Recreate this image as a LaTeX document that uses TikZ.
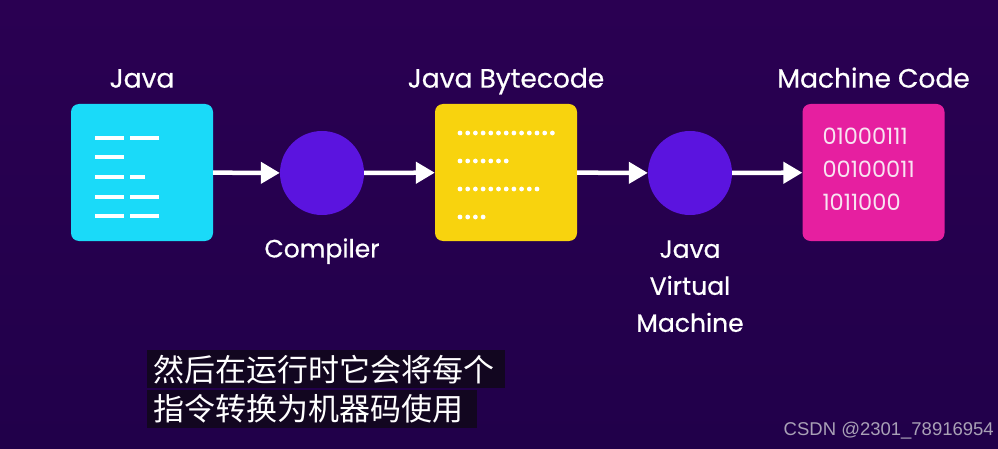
\documentclass[tikz,border=0pt]{standalone}
\usepackage{fontspec}
\setmainfont{Poppins}
\newfontfamily\titlefont{Poppins}[FakeBold=0.6]
\newfontfamily\cjk{Noto Sans CJK SC}
\newfontfamily\wmfont{Liberation Sans}
\usetikzlibrary{positioning}
\usetikzlibrary{arrows.meta}

\definecolor{bgtop}{HTML}{2A0052}
\definecolor{bgbot}{HTML}{21004A}
\definecolor{javacyan}{HTML}{1ADAF9}
\definecolor{byteyellow}{HTML}{F8D30E}
\definecolor{machpink}{HTML}{E61FA0}
\definecolor{toolviolet}{HTML}{5B14DF}
\definecolor{binwhite}{HTML}{F8E4F2}
\definecolor{subbg}{HTML}{120620}
\definecolor{wmgray}{HTML}{A9A1B6}

\begin{document}
\begin{tikzpicture}[x = 1pt, y = -1pt,
    srcbox/.style = {shape = rectangle, rounded corners = 8pt, minimum width = 142pt, minimum height = 137pt, inner sep = 0pt},
    tool/.style = {shape = circle, fill = toolviolet, minimum size = 84pt, inner sep = 0pt},
    title/.style = {text = white, font = \titlefont\fontsize{26.5}{30}\selectfont, text height = 19pt, text depth = 5pt, inner sep = 0pt, label distance = 11pt},
    toolname/.style = {text = white, font = \titlefont\fontsize{25}{37}\selectfont, align = center, inner sep = 0pt, label distance = 25pt},
    bits/.style = {text = binwhite, align = left, inner sep = 0pt, font = \fontsize{22.5}{33}\selectfont},
    flow/.style = {-{Triangle[length = 19pt, width = 21pt]}, white, line width = 4.5pt},
    codeline/.style = {white, line width = 4pt},
    subline/.style = {fill = subbg, text = white, anchor = north west, font = \cjk\fontsize{31}{34}\selectfont, minimum height = 38pt, inner xsep = 6pt, inner ysep = 0pt, align = left},
    ]
    \shade[top color = bgtop, bottom color = bgbot] (0,0) rectangle (998,449);
    \useasboundingbox (0,0) rectangle (998,449);

    \node[srcbox, fill = javacyan] (java) [label = {[title]above:Java}] at (142,172.5) {};
    \node[tool] (compiler) [label = {[toolname, label distance = 23pt]below:Compiler}] at (322,173) {};
    \node[srcbox, fill = byteyellow] (bytecode) [label = {[title]above:Java Bytecode}] at (506,172.5) {};
    \node[tool] (jvm) [label = {[toolname]below:Java\\Virtual\\Machine}] at (690,173) {};
    \node[srcbox, fill = machpink] (machine) [label = {[title]above:Machine Code}] at (873.5,172.5) {};
    \node[bits, below right = 24pt and 20pt of machine.north west] (binary) {01000111\\00100011\\1011000};

    % source lines
    \draw[codeline] (95,138) -- (124,138);
    \draw[codeline] (130,138) -- (159,138);
    \draw[codeline] (95,157) -- (124,157);
    \draw[codeline] (95,177) -- (124,177);
    \draw[codeline] (130,177) -- (145,177);
    \draw[codeline] (95,197) -- (124,197);
    \draw[codeline] (130,197) -- (159,197);
    \draw[codeline] (95,216) -- (124,216);
    \draw[codeline] (130,216) -- (159,216);

    % bytecode dots
    \foreach \n/\y in {13/133, 7/161, 11/189, 4/217}
        \foreach \i in {1,...,\n}
            \fill[white] ({452.3+7.7*\i},\y) circle (2.4pt);

    \path[flow] (java) edge (compiler);
    \path[flow] (compiler) edge (bytecode);
    \path[flow] (bytecode) edge (jvm);
    \path[flow] (jvm) edge (machine);

    \node[subline, text width = 346pt] (sub1) at (147,350) {然后在运行时它会将每个};
    \node[subline, text width = 318pt] (sub2) at (147,390) {指令转换为机器码使用};
    \node[anchor = east, text = wmgray, font = \wmfont\fontsize{18.5}{22}\selectfont, inner sep = 0pt] (mark) at (994,431) {CSDN @2301\_78916954};
\end{tikzpicture}
\end{document}
